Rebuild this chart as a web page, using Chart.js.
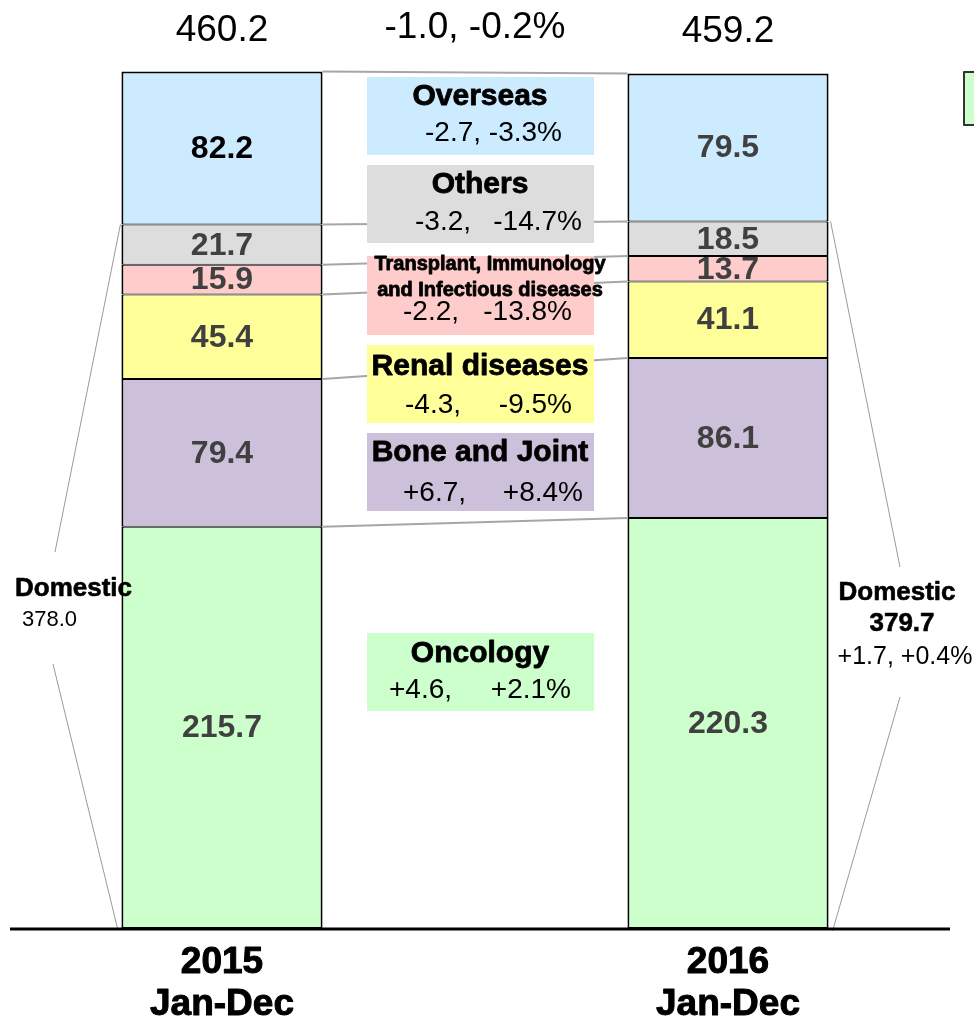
<!DOCTYPE html>
<html>
<head>
<meta charset="utf-8">
<script src="https://cdn.jsdelivr.net/npm/chart.js@4/dist/chart.umd.min.js"></script>
<style>
  html, body { margin: 0; padding: 0; background: #ffffff; }
  canvas { display: block; }
</style>
</head>
<body>
<canvas id="c" width="974" height="1020"></canvas>
<script>
// ---------------- DATA ----------------
const categories = ['2015', '2016'];
const periodLabel = 'Jan-Dec';
const segmentNames = ['Oncology', 'Bone and Joint', 'Renal diseases',
  'Transplant, Immunology and Infectious diseases', 'Others', 'Overseas'];
const oncology   = [215.7, 220.3];
const boneJoint  = [79.4, 86.1];
const renal      = [45.4, 41.1];
const transplant = [15.9, 13.7];
const others     = [21.7, 18.5];
const overseas   = [82.2, 79.5];
const totals     = ['460.2', '459.2'];
const totalChange = '-1.0, -0.2%';
const domestic   = ['378.0', '379.7'];
const domesticChange = '+1.7, +0.4%';
const changeAbs  = ['+4.6,', '+6.7,', '-4.3,', '-2.2,', '-3.2,', '-2.7,'];
const changePct  = ['+2.1%', '+8.4%', '-9.5%', '-13.8%', '-14.7%', '-3.3%'];

// ---------------- STYLE / LAYOUT ----------------
const colors = ['#CCFFCC', '#CCC0DA', '#FFFF99', '#FFCCCC', '#DDDDDD', '#CCEBFF'];
const FONT = '"Liberation Sans", Arial, sans-serif';
const boxLayout = [
  { top: 633, bottom: 711, titles: [['Oncology', 654, 30]], cy: 690, cx: [389, 571] },
  { top: 433, bottom: 511, titles: [['Bone and Joint', 453, 30]], cy: 493, cx: [403, 583] },
  { top: 345, bottom: 423, titles: [['Renal diseases', 367, 30]], cy: 405, cx: [405, 572] },
  { top: 256, bottom: 335, titles: [['Transplant, Immunology', 264, 20], ['and Infectious diseases', 290, 20]], cy: 312, cx: [403, 572] },
  { top: 165, bottom: 243, titles: [['Others', 185, 30]], cy: 222, cx: [415, 582] },
  { top: 77, bottom: 155, titles: [['Overseas', 97, 30]], cy: 133, cx: [425, 562] }
];
const boxX = [367, 594];

const seriesValues = [oncology, boneJoint, renal, transplant, others, overseas];
const xLabels = [categories[0], '', categories[1]];

const datasets = seriesValues.map((vals, i) => ({
  label: segmentNames[i],
  data: [vals[0], null, vals[1]],
  backgroundColor: colors[i],
  borderColor: '#000000',
  borderWidth: { left: 2, right: 2, top: i === seriesValues.length - 1 ? 2 : 1, bottom: 1 },
  borderSkipped: false,
  barPercentage: 0.795,
  categoryPercentage: 1.0
}));

function text(ctx, str, x, y, size, weight, color, align, heavy) {
  ctx.font = (weight || 'normal') + ' ' + size + 'px ' + FONT;
  ctx.fillStyle = color || '#000';
  ctx.textAlign = align || 'center';
  ctx.textBaseline = 'middle';
  ctx.fillText(str, x, y);
  if (heavy) {
    ctx.strokeStyle = color || '#000';
    ctx.lineWidth = heavy;
    ctx.lineJoin = 'round';
    ctx.strokeText(str, x, y);
  }
}

const annotate = {
  id: 'annotate',
  afterDatasetsDraw(chart) {
    const ctx = chart.ctx;
    const ys = chart.scales.y;
    const xs = chart.scales.x;
    const metas = seriesValues.map((_, i) => chart.getDatasetMeta(i));
    const barA = metas[0].data[0], barB = metas[0].data[2];
    const aRight = barA.x + barA.width / 2, aLeft = barA.x - barA.width / 2;
    const bLeft = barB.x - barB.width / 2, bRight = barB.x + barB.width / 2;
    ctx.save();

    // connector lines between stack boundaries
    ctx.strokeStyle = '#A6A6A6';
    ctx.lineWidth = 2;
    for (let i = 0; i < seriesValues.length; i++) {
      const yA = metas[i].data[0].y, yB = metas[i].data[2].y;
      ctx.beginPath();
      ctx.moveTo(aRight, yA);
      ctx.lineTo(bLeft, yB);
      ctx.stroke();
    }

    // domestic guide lines
    const domA = metas[4].data[0].y, domB = metas[4].data[2].y;
    const base = ys.getPixelForValue(0);
    ctx.strokeStyle = '#9A9A9A';
    ctx.lineWidth = 1;
    ctx.beginPath();
    ctx.moveTo(aLeft - 1, domA); ctx.lineTo(55, 552);
    ctx.moveTo(53, 664); ctx.lineTo(aLeft - 4, base);
    ctx.moveTo(bRight + 2, domB); ctx.lineTo(900, 567);
    ctx.moveTo(900, 697); ctx.lineTo(bRight + 4, base + 3);
    ctx.stroke();

    // annotation boxes
    boxLayout.forEach((b, i) => {
      ctx.fillStyle = colors[i];
      ctx.fillRect(boxX[0], b.top, boxX[1] - boxX[0], b.bottom - b.top);
    });
    boxLayout.forEach((b, i) => {
      b.titles.forEach(t => text(ctx, t[0], 480 + (t[2] < 25 ? 10 : 0), t[1], t[2], 'bold', '#000', 'center', 0.8));
      text(ctx, changeAbs[i], b.cx[0], b.cy, 28, 'normal', '#000', 'left');
      text(ctx, changePct[i], b.cx[1], b.cy, 28, 'normal', '#000', 'right');
    });

    // value labels inside bars
    metas.forEach((m, i) => {
      [0, 2].forEach((idx, k) => {
        const el = m.data[idx];
        const cy = (el.y + el.base) / 2;
        const isFirstOverseas = (i === 5 && k === 0);
        text(ctx, seriesValues[i][k].toFixed(1), el.x, cy + 1, 32, 'bold',
             isFirstOverseas ? '#000' : '#404040');
      });
    });

    // totals
    text(ctx, totals[0], xs.getPixelForValue(0), 31, 37, 'normal', '#000');
    text(ctx, totalChange, xs.getPixelForValue(1), 28, 37, 'normal', '#000');
    text(ctx, totals[1], xs.getPixelForValue(2), 32, 37, 'normal', '#000');

    // domestic labels
    text(ctx, 'Domestic', 15, 589, 26, 'bold', '#000', 'left', 0.6);
    text(ctx, domestic[0], 22, 620, 22, 'normal', '#000', 'left');
    text(ctx, 'Domestic', 897, 593, 26, 'bold', '#000', 'center', 0.6);
    text(ctx, domestic[1], 902, 624, 26, 'bold', '#000', 'center', 0.6);
    text(ctx, domesticChange, 905, 657, 25, 'normal', '#000');

    // baseline
    ctx.strokeStyle = '#000';
    ctx.lineWidth = 3;
    ctx.beginPath();
    ctx.moveTo(10, base + 1);
    ctx.lineTo(950, base + 1);
    ctx.stroke();

    // category labels
    [0, 2].forEach((idx, k) => {
      const x = xs.getPixelForValue(idx);
      text(ctx, categories[k], x, 963, 37, 'bold', '#000', 'center', 1);
      text(ctx, periodLabel, x, 1005, 37, 'bold', '#000', 'center', 1);
    });

    // partially visible legend swatch at right edge
    ctx.fillStyle = colors[0];
    ctx.fillRect(964, 72, 20, 53);
    ctx.strokeStyle = '#333';
    ctx.lineWidth = 2;
    ctx.strokeRect(964, 72, 20, 53);

    ctx.restore();
  }
};

new Chart(document.getElementById('c'), {
  type: 'bar',
  data: { labels: xLabels, datasets },
  options: {
    responsive: false,
    animation: false,
    devicePixelRatio: 1,
    layout: { padding: { left: 95.5, right: 119.5, top: 20, bottom: 92 } },
    scales: {
      x: { stacked: true, display: false },
      y: { stacked: true, display: false, min: 0, max: 488 }
    },
    plugins: { legend: { display: false }, tooltip: { enabled: false } }
  },
  plugins: [annotate]
});
</script>
</body>
</html>
